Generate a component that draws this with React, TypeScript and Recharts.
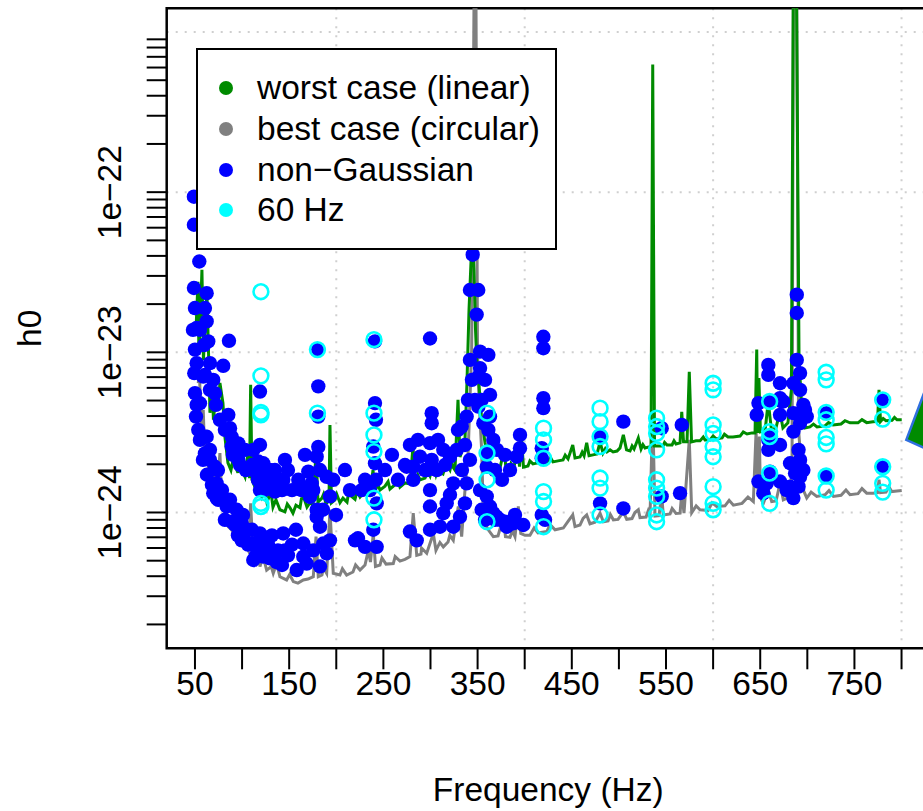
import React from "react";
import { ComposedChart, Line, Scatter, XAxis, YAxis, CartesianGrid, Legend, Label, ReferenceArea } from "recharts";

// h0 values below are written in units of 1e-24 and scaled when the rows are built
const UNIT = 1e-24;

// worst case (linear polarisation) upper limit, [frequency Hz, h0 / 1e-24]
const worstCase: [number, number][] = [
  [51.1, 13.8], [53.2, 27.6], [54.2, 9.64], [56.4, 21.3], [57.4, 32.8], [59.0, 8.97], [60.6, 13.8], [62.7, 23.5],
  [64.9, 7.78], [65.9, 4.19], [68.0, 6.73], [69.6, 3.79], [72.3, 5.42], [74.4, 4.37], [76.5, 6.44], [79.7, 4.83],
  [81.8, 2.96], [85.0, 2.04], [88.2, 1.84], [91.4, 2.29], [93.5, 1.9], [95.6, 1.77], [97.8, 2.57], [99.9, 1.84],
  [103.1, 1.67], [106.3, 2.35], [107.9, 1.64], [109.1, 6.27], [110.5, 1.6], [113.7, 1.44], [116.9, 1.32], [121.1, 1.25],
  [124.3, 1.38], [126.4, 1.16], [129.6, 1.29], [132.8, 1.08], [136.0, 1.2], [140.2, 1.04], [145.5, 1.01], [150.9, 1.07],
  [154.0, 0.99], [157.2, 1.11], [161.5, 1.07], [165.7, 1.23], [168.9, 1.08], [172.1, 1.15], [175.3, 1.11], [178.5, 2.39],
  [180.6, 1.16], [184.8, 1.23], [189.1, 1.13], [192.3, 1.2], [193.3, 3.52], [194.9, 1.15], [198.6, 1.2], [203.9, 1.15],
  [207.1, 1.23], [211.4, 1.16], [215.6, 1.27], [219.9, 1.21], [225.2, 1.25], [229.4, 1.34], [233.7, 1.53], [235.8, 1.32],
  [239.0, 1.84], [241.1, 1.36], [246.4, 1.38], [251.7, 1.46], [257.0, 1.4], [262.3, 1.49], [267.6, 1.44], [272.9, 1.53],
  [278.2, 1.51], [281.4, 2.57], [283.5, 1.55], [288.9, 1.6], [294.2, 1.64], [299.5, 1.69], [302.7, 2.04], [305.8, 1.72],
  [310.1, 1.79], [313.3, 1.74], [317.5, 1.98], [320.7, 1.84], [323.9, 1.92], [326.0, 1.84], [329.2, 5.05], [331.3, 2.22],
  [334.5, 2.53], [336.6, 2.84], [338.7, 6.44], [340.9, 18.4], [343.0, 36.6], [344.6, 51.9], [346.2, 32.8], [347.8, 13.8],
  [349.4, 8.1], [351.5, 6.27], [354.1, 3.95], [357.9, 2.72], [361.0, 2.13], [364.2, 1.95], [366.7, 1.92], [370.6, 1.9],
  [373.8, 1.9], [378.1, 2.46], [380.2, 1.87], [384.4, 1.9], [388.6, 1.92], [392.9, 2.57], [394.5, 1.93], [396.4, 3.05],
  [398.7, 1.92], [403.5, 1.95], [408.8, 2.01], [414.1, 2.04], [419.4, 2.04], [424.7, 2.07], [430.0, 2.07], [435.4, 2.1],
  [440.7, 2.13], [446.0, 2.16], [451.0, 2.64], [453.4, 2.19], [458.7, 2.22], [463.0, 2.26], [465.8, 2.72], [468.3, 2.26],
  [472.5, 2.29], [476.8, 2.32], [480.0, 2.76], [483.1, 2.35], [487.4, 2.39], [490.6, 2.46], [493.8, 2.39], [498.0, 2.42],
  [501.2, 2.53], [504.7, 3.05], [508.1, 2.46], [511.8, 2.42], [516.1, 2.49], [520.6, 2.92], [523.5, 2.49], [527.7, 2.53],
  [532.0, 2.57], [534.1, 2.6], [535.9, 626], [537.8, 2.6], [541.5, 2.6], [546.8, 2.6], [551.1, 2.64], [556.4, 2.64],
  [560.6, 2.68], [564.9, 2.72], [566.7, 4.25], [568.6, 2.76], [572.3, 2.76], [574.7, 7.55], [577.1, 2.76], [581.9, 2.8],
  [586.1, 2.8], [591.4, 2.84], [596.7, 2.84], [603.1, 2.88], [609.5, 2.92], [615.8, 2.96], [621.1, 2.96], [628.6, 3.0],
  [636.0, 3.09], [641.3, 3.14], [644.5, 3.14], [646.3, 10.4], [647.2, 3.14], [648.6, 6.9], [650.2, 3.19], [653.9, 3.23],
  [658.5, 4.91], [661.9, 3.28], [666.7, 3.37], [670.9, 4.25], [674.1, 3.37], [679.4, 3.63], [683.1, 5.83], [685.0, 1500],
  [688.6, 1500], [691.2, 8.97], [694.0, 4.56], [697.5, 3.37], [702.8, 3.42], [710.3, 3.42], [718.8, 3.47], [727.3, 3.52],
  [735.8, 3.57], [745.3, 3.63], [753.8, 3.63], [763.0, 3.64], [769.7, 3.68], [774.5, 3.7], [776.1, 5.83], [777.7, 3.7],
  [783.5, 3.74], [789.9, 3.76], [795.2, 3.79], [800.2, 3.79],
  // small wiggles between the main samples
  [118.5, 1.42], [131.0, 1.3], [148.0, 1.13], [163.0, 1.22], [186.5, 1.3], [200.5, 1.3], [213.0, 1.32], [222.0, 1.36],
  [244.0, 1.5], [255.0, 1.56], [265.0, 1.6], [286.5, 1.72], [297.0, 1.8], [308.0, 1.9], [315.5, 1.92], [322.5, 2.05],
  [385.5, 2.02], [405.5, 2.1], [427.5, 2.2], [443.0, 2.28], [461.0, 2.38], [485.5, 2.5], [514.0, 2.6], [525.5, 2.65],
  [548.5, 2.74], [558.5, 2.8], [589.5, 2.96], [600.0, 3.0], [612.0, 3.08], [632.0, 3.18], [655.5, 3.38], [706.5, 3.56],
  [722.5, 3.64], [740.0, 3.74], [758.0, 3.8], [780.5, 3.86], [792.5, 3.92],
];

// best case (circular polarisation) upper limit
const bestCase: [number, number][] = [
  [53.5, 6.42], [54.6, 7.58], [55.8, 5.05], [57.1, 3.28], [58.8, 4.37], [60.6, 2.04], [62.4, 3.28], [64.3, 1.84],
  [65.9, 1.6], [69.4, 1.93], [73.0, 1.26], [76.5, 2.35], [78.3, 1.26], [81.8, 0.99], [85.4, 0.815], [89.0, 0.78],
  [92.5, 0.705], [97.8, 0.64], [101.3, 0.67], [106.6, 0.58], [109.1, 1.14], [111.9, 0.53], [115.5, 0.48], [119.0, 0.46],
  [122.2, 0.535], [126.1, 0.437], [133.1, 0.417], [136.7, 0.48], [140.2, 0.397], [147.3, 0.379], [154.4, 0.37], [159.3, 0.362],
  [165.0, 0.379], [170.0, 0.384], [175.6, 0.397], [178.5, 0.706], [180.9, 0.397], [184.8, 0.407], [189.8, 0.417], [193.3, 1.04],
  [196.8, 0.417], [203.9, 0.407], [211.0, 0.407], [217.7, 0.425], [225.2, 0.437], [230.5, 0.47], [234.0, 0.58], [236.3, 0.49],
  [239.3, 0.74], [241.6, 0.46], [246.4, 0.47], [252.8, 0.476], [260.5, 0.48], [267.6, 0.497], [272.9, 0.51], [278.2, 0.53],
  [281.7, 0.99], [285.4, 0.54], [289.9, 0.55], [296.0, 0.556], [303.0, 0.74], [305.8, 0.58], [313.6, 0.61], [318.6, 0.654],
  [324.2, 0.67], [329.5, 1.09], [333.1, 0.706], [336.6, 1.38], [340.1, 2.46], [343.7, 10.4], [346.2, 1600], [348.3, 1600],
  [349.9, 10.4], [351.5, 5.05], [354.3, 2.46], [356.0, 1.04], [357.8, 0.85], [361.3, 0.78], [366.7, 0.706], [371.7, 0.714],
  [377.3, 0.94], [379.6, 0.706], [384.4, 0.7], [389.7, 0.706], [393.2, 1.09], [395.8, 0.74], [400.3, 0.72], [405.6, 0.72],
  [414.1, 0.745], [423.4, 0.76], [432.2, 0.78], [441.0, 0.8], [451.0, 0.965], [453.4, 0.816], [458.7, 0.835], [465.8, 0.965],
  [469.3, 0.85], [474.6, 0.87], [480.0, 0.99], [483.5, 0.875], [488.5, 0.885], [494.1, 0.9], [499.1, 0.905], [504.7, 1.01],
  [508.3, 0.907], [513.9, 0.917], [520.6, 1.04], [522.4, 0.93], [528.8, 0.937], [533.0, 0.94], [535.9, 4.25], [538.3, 0.95],
  [542.6, 0.957], [545.4, 1.29], [547.1, 0.965], [554.3, 0.98], [560.6, 0.986], [564.9, 0.99], [566.7, 1.32], [569.1, 0.99],
  [574.7, 2.84], [577.3, 0.997], [586.1, 1.04], [594.6, 1.03], [603.8, 1.09], [612.6, 1.1], [621.5, 1.11], [630.7, 1.14],
  [642.7, 1.17], [645.6, 3.2], [648.0, 1.26], [649.1, 2.98], [650.3, 1.23], [653.3, 1.14], [658.6, 1.38], [662.2, 1.17],
  [666.8, 1.18], [671.0, 1.52], [674.5, 1.2], [678.5, 1.23], [681.7, 1.26], [683.8, 2.13], [685.2, 1600], [688.8, 1600],
  [690.7, 3.28], [692.3, 2.46], [695.8, 1.38], [699.4, 1.23], [710.0, 1.26], [718.8, 1.29], [727.7, 1.26], [735.8, 1.28],
  [745.3, 1.29], [753.8, 1.31], [763.0, 1.32], [769.7, 1.32], [774.5, 1.33], [776.1, 1.6], [777.7, 1.33], [783.5, 1.34],
  [789.5, 1.35], [795.2, 1.36], [800.2, 1.37],
  // small wiggles between the main samples
  [118.0, 0.52], [131.0, 0.46], [150.5, 0.41], [186.5, 0.45], [206.5, 0.445], [220.5, 0.47], [248.5, 0.52], [262.5, 0.53],
  [290.5, 0.6], [310.0, 0.65], [320.5, 0.72], [387.0, 0.77], [410.0, 0.8], [427.0, 0.84], [446.0, 0.88], [462.0, 0.92],
  [491.0, 0.97], [517.0, 1.0], [531.0, 1.02], [556.5, 1.06], [582.0, 1.1], [599.0, 1.15], [617.0, 1.19], [637.0, 1.25],
  [704.0, 1.34], [723.0, 1.37], [741.0, 1.38], [758.0, 1.41], [786.5, 1.45],
];

// non-Gaussian bands
const nonGaussian: [number, number][] = [
  [48.9, 93.7], [48.9, 62.6], [54.6, 36.9], [48.9, 25.2], [62.4, 23.4], [50.0, 18.9], [60.6, 18.9], [51.8, 14.2],
  [62.4, 15.6], [64.1, 11.7], [50.0, 10.4], [51.8, 8.56], [65.9, 8.56], [49.3, 7.41], [60.6, 7.23], [69.4, 6.73],
  [50.0, 5.56], [71.2, 5.56], [51.8, 4.7], [85.4, 4.07], [51.1, 3.97], [53.5, 3.28], [86.1, 11.8], [80.0, 8.24],
  [55.3, 4.81], [58.8, 7.05], [62.4, 2.97], [60.6, 2.34], [65.9, 2.13], [87.2, 3.36], [89.0, 2.58], [103.1, 2.46],
  [96.0, 2.13], [119.0, 5.69], [119.0, 2.64], [117.2, 2.08], [122.5, 2.03], [119.0, 1.6], [126.1, 1.76], [134.9, 1.84],
  [145.5, 2.13], [143.7, 1.6], [134.9, 1.35], [69.4, 1.32], [74.7, 1.2], [83.7, 1.09], [94.3, 1.04], [89.0, 0.876],
  [99.6, 0.86], [104.9, 0.78], [99.6, 0.67], [110.2, 0.64], [119.0, 0.74], [119.0, 0.61], [122.5, 0.53], [129.6, 0.517],
  [136.7, 0.49], [143.7, 0.74], [145.5, 0.58], [65.9, 2.46], [62.4, 2.23], [71.2, 1.93], [73.0, 1.52], [73.0, 1.23],
  [97.8, 0.815], [101.3, 0.705], [111.9, 0.505], [126.1, 0.556], [89.0, 2.97], [96.0, 2.7], [111.9, 2.46], [120.8, 1.93],
  [115.5, 1.76], [129.6, 1.52], [119.0, 1.38], [159.7, 1.6], [163.3, 1.38], [170.3, 1.8], [173.9, 1.52], [168.6, 1.42],
  [55.3, 2.84], [58.5, 2.13], [62.7, 1.72], [68.0, 1.49], [74.4, 1.84], [78.7, 1.38], [81.8, 0.9], [87.2, 1.2],
  [92.5, 0.835], [95.6, 0.72], [101.0, 0.965], [106.3, 0.63], [110.5, 0.78], [114.8, 0.54], [121.1, 0.67], [127.5, 0.63],
  [131.7, 0.72], [138.1, 0.58], [142.4, 0.47], [148.7, 0.54], [153.0, 0.63], [157.2, 0.78], [55.3, 13.8], [59.6, 11.1],
  [65.9, 5.83], [72.3, 4.7], [76.5, 3.79], [81.8, 3.28], [90.3, 2.29], [97.8, 1.98], [104.1, 1.84], [110.5, 1.98],
  [116.9, 1.6], [123.3, 1.38], [129.6, 1.84], [136.0, 1.6], [142.4, 1.38], [148.7, 1.84], [153.0, 1.38], [47.9, 13.8],
  [180.9, 10.4], [180.9, 6.13], [180.9, 3.97], [180.9, 2.57], [179.2, 2.23], [182.7, 1.84], [189.8, 1.67], [196.8, 1.6],
  [175.6, 1.38], [179.2, 1.04], [179.2, 0.94], [182.7, 0.815], [186.2, 0.64], [175.6, 0.58], [168.6, 0.48], [158.0, 0.437],
  [189.8, 0.556], [182.7, 0.46], [165.0, 0.64], [165.0, 0.53], [193.3, 1.26], [166.8, 2.29], [172.1, 1.25], [185.9, 1.04],
  [193.3, 0.67], [199.7, 0.965],
  [241.1, 11.7], [241.1, 4.82], [242.1, 3.79], [239.3, 2.58], [241.1, 2.03], [242.1, 1.6], [235.8, 1.38], [242.9, 1.14],
  [239.3, 0.78], [242.9, 0.61], [230.5, 0.61], [230.5, 1.6], [227.0, 1.38], [223.0, 0.69], [209.2, 1.84], [214.5, 1.38],
  [219.9, 0.67],
  [299.5, 12.2], [301.3, 4.17], [301.3, 3.61], [299.5, 2.71], [301.3, 2.13], [299.5, 1.38], [299.5, 1.09], [281.7, 1.93],
  [278.2, 0.76], [285.4, 0.67], [299.5, 0.78], [310.1, 0.815], [313.6, 0.99], [317.2, 1.14], [324.2, 1.52], [320.7, 2.23],
  [327.8, 2.46], [333.1, 3.44], [338.4, 3.97], [313.6, 2.46], [306.6, 1.84], [288.9, 2.23], [296.0, 1.84], [281.7, 1.6],
  [274.7, 1.93], [251.7, 1.84], [259.1, 2.29], [265.5, 1.6], [272.9, 1.98], [278.2, 2.64], [286.7, 2.84], [294.2, 1.84],
  [308.0, 2.84], [315.4, 1.98], [320.7, 1.29], [329.2, 3.28], [333.4, 1.84], [336.6, 2.64], [341.9, 2.13], [339.8, 5.05],
  [344.0, 6.73], [341.9, 8.97],
  [344.8, 40.7], [341.9, 24.5], [350.7, 24.5], [349.0, 17.2], [352.6, 10.1], [361.4, 9.64], [352.6, 7.97], [350.8, 7.06],
  [347.2, 5.05], [350.8, 4.58], [356.1, 3.61], [361.4, 3.28], [364.9, 2.46], [359.7, 1.93], [338.4, 1.52], [336.6, 1.14],
  [331.3, 0.94], [324.2, 0.815], [352.6, 1.38], [354.3, 1.04], [357.9, 0.9], [366.7, 0.99], [373.8, 0.9], [380.9, 0.815],
  [354.3, 5.05], [363.2, 3.97], [366.7, 2.84], [359.7, 2.35], [370.6, 2.46], [379.1, 2.29], [395.0, 3.05], [395.0, 2.52],
  [391.5, 2.23], [359.7, 1.26], [363.2, 1.09], [370.3, 0.94], [379.1, 0.876], [387.9, 0.856], [398.5, 0.835],
  [368.5, 1.84], [375.9, 1.6], [384.4, 1.84], [363.2, 5.42], [357.9, 6.73], [368.5, 0.9], [389.7, 0.965],
  [419.8, 12.5], [419.8, 10.6], [419.8, 5.17], [419.8, 4.48], [418.1, 2.52], [418.1, 2.18], [418.1, 0.965], [421.6, 0.9],
  [480.0, 2.98], [480.0, 1.14], [504.7, 3.69], [504.7, 1.06], [545.4, 3.36], [545.4, 1.26], [566.7, 3.52], [564.9, 1.32],
  [658.6, 8.34], [658.6, 7.23], [671.0, 6.41], [688.8, 22.9], [688.8, 17.6], [688.8, 8.97], [692.3, 7.42], [685.2, 6.41],
  [692.3, 5.83], [648.1, 4.82], [646.3, 4.07], [671.0, 5.17], [674.5, 4.93], [671.0, 4.07], [685.2, 4.17], [695.8, 4.7],
  [699.4, 3.97], [692.3, 3.61], [685.2, 3.2], [658.6, 2.84], [671.0, 2.64], [658.6, 2.46], [690.7, 2.46], [692.3, 2.13],
  [681.7, 2.03], [695.8, 1.84], [660.4, 1.8], [692.3, 1.67], [648.1, 1.56], [656.9, 1.52], [671.0, 1.56], [678.1, 1.38],
  [685.2, 1.23], [653.3, 1.32], [681.7, 1.45], [697.5, 4.37], [660.4, 4.93], [672.8, 4.93], [660.4, 2.98], [690.7, 2.03],
  [687.0, 1.76], [690.7, 1.45], [720.4, 4.17], [720.4, 1.67], [779.0, 5.05], [779.0, 1.93],
];

// 60 Hz harmonics
const sixtyHz: [number, number][] = [
  [120, 23.9], [120, 7.13], [120, 4.21], [120, 4.07], [120, 1.14], [120, 1.09],
  [180, 10.4], [180, 4.17],
  [240, 12.0], [240, 4.17], [240, 3.05], [240, 2.4], [240, 1.23], [240, 0.9],
  [360, 4.17], [360, 2.35], [360, 1.6], [360, 0.876],
  [420, 3.36], [420, 2.84], [420, 2.18], [420, 1.35], [420, 1.17], [420, 0.815],
  [480, 4.48], [480, 3.69], [480, 2.98], [480, 2.58], [480, 1.64], [480, 1.42], [480, 0.965],
  [540, 3.88], [540, 3.44], [540, 3.12], [540, 2.46], [540, 1.6], [540, 1.42], [540, 1.26], [540, 0.965], [540, 0.876],
  [600, 6.41], [600, 5.83], [600, 3.52], [600, 3.12], [600, 2.58], [600, 2.23], [600, 1.45], [600, 1.14], [600, 1.04],
  [660, 4.93], [660, 3.2], [660, 2.98], [660, 1.76], [660, 1.14],
  [720, 7.51], [720, 6.73], [720, 4.22], [720, 3.79], [720, 2.94], [720, 2.68], [720, 1.69], [720, 1.38],
  [780, 5.05], [780, 3.83], [780, 1.93], [780, 1.52], [780, 1.34],
];

// the big marker cut off at the right edge
const edgeMarker: [number, number][] = [[830, 3.28]];

const xTicks = [50, 100, 150, 200, 250, 300, 350, 400, 450, 500, 550, 600, 650, 700, 750, 800];
const xTickLabels = [50, 150, 250, 350, 450, 550, 650, 750];
const yTicks = [
  2e-25, 3e-25, 4e-25, 5e-25, 6e-25, 7e-25, 8e-25, 9e-25,
  1e-24, 2e-24, 3e-24, 4e-24, 5e-24, 6e-24, 7e-24, 8e-24, 9e-24,
  1e-23, 2e-23, 3e-23, 4e-23, 5e-23, 6e-23, 7e-23, 8e-23, 9e-23,
  1e-22, 2e-22, 3e-22, 4e-22, 5e-22, 6e-22, 7e-22, 8e-22, 9e-22,
];
const yTickLabels = [1e-24, 1e-23, 1e-22];
const yTickText = ["1e\u221224", "1e\u221223", "1e\u221222"];
const xGrid = [200, 400, 600, 800];
const yGrid = [1e-24, 1e-23, 1e-22, 1e-21];

const GREEN = "#008b00";
const GRAY = "#808080";
const BLUE = "#0000ff";
const CYAN = "#00ffff";

const legendItems = [
  { name: "worst case (linear)", color: GREEN },
  { name: "best case (circular)", color: GRAY },
  { name: "non\u2212Gaussian", color: BLUE },
  { name: "60 Hz", color: CYAN },
];

const X_DOMAIN: [number, number] = [20, 830];
const Y_DOMAIN: [number, number] = [1.419e-25, 1.406e-21];

// plot box in page pixels (wrapper is fixed at the page origin)
const W = 950;
const H = 811;
const PLOT_L = 166.7;
const PLOT_T = 8.3;
const PLOT_R = 929.8;
const PLOT_B = 648.3;

const FONT = "'Liberation Sans', Arial, Helvetica, sans-serif";
const FS = 33.5;

const toRows = (pts: [number, number][]) => pts.map(([f, v]) => ({ f, h0: v * UNIT }));
const toLine = (pts: [number, number][]) => toRows(pts).sort((a, b) => a.f - b.f);

function XTick({ x, payload }: any) {
  const v = payload.value;
  return (
    <g>
      <line x1={x} x2={x} y1={PLOT_B} y2={PLOT_B + 21} stroke="#000" strokeWidth={2} />
      {xTickLabels.includes(v) && (
        <text x={x} y={695} textAnchor="middle" fontSize={FS} fontFamily={FONT} fill="#000">
          {v}
        </text>
      )}
    </g>
  );
}

function YTick({ y, payload }: any) {
  const v = payload.value;
  const i = yTickLabels.findIndex((d) => Math.abs(v / d - 1) < 1e-6);
  return (
    <g>
      <line x1={PLOT_L - 20} x2={PLOT_L} y1={y} y2={y} stroke="#000" strokeWidth={2} />
      {i >= 0 && (
        <text transform={`translate(121,${y}) rotate(-90)`} textAnchor="middle" fontSize={FS} fontFamily={FONT} fill="#000">
          {yTickText[i]}
        </text>
      )}
    </g>
  );
}

const BlueDot = (p: any) => <circle cx={p.cx} cy={p.cy} r={7.2} fill={BLUE} />;
const CyanRing = (p: any) => <circle cx={p.cx} cy={p.cy} r={7.4} fill="none" stroke={CYAN} strokeWidth={2.6} />;
const EdgeTriangle = (p: any) => (
  <polygon
    points={`${p.cx - 23.5},${p.cy + 10} ${p.cx + 8},${p.cy - 73} ${p.cx + 8},${p.cy + 24}`}
    fill={GREEN}
    stroke="#2f6fdf"
    strokeWidth={2.5}
  />
);

function LegendBox() {
  const rowsY = [38, 79, 120, 160];
  return (
    <div
      style={{
        position: "relative",
        width: 361,
        height: 202,
        boxSizing: "border-box",
        border: "2px solid #000",
        background: "#fff",
        fontFamily: FONT,
        fontSize: FS,
        color: "#000",
      }}
    >
      {legendItems.map((it, i) => (
        <div key={it.name} style={{ position: "absolute", left: 0, top: rowsY[i] - 20, height: 40, width: "100%" }}>
          <span
            style={{
              position: "absolute",
              left: 21,
              top: 13,
              width: 14,
              height: 14,
              borderRadius: "50%",
              background: it.color,
            }}
          />
          <span style={{ position: "absolute", left: 59, top: 0, lineHeight: "40px", whiteSpace: "nowrap" }}>{it.name}</span>
        </div>
      ))}
    </div>
  );
}

export default function App() {
  return (
    <div style={{ position: "fixed", left: 0, top: 0, width: 923, height: 811, overflow: "hidden", background: "#fff" }}>
      <ComposedChart width={W} height={H} margin={{ top: PLOT_T, right: W - PLOT_R, bottom: 0, left: 0 }}>
        <CartesianGrid
          horizontalValues={yGrid}
          verticalValues={xGrid}
          stroke="#cfcfcf"
          strokeWidth={2}
          strokeDasharray="2 7"
        />
        <XAxis
          type="number"
          dataKey="f"
          domain={X_DOMAIN}
          ticks={xTicks}
          interval={0}
          allowDataOverflow
          axisLine={false}
          tickLine={false}
          tick={<XTick />}
          height={H - PLOT_B}
        >
          <Label
            content={() => (
              <text x={(PLOT_L + PLOT_R) / 2} y={801} textAnchor="middle" fontSize={FS} fontFamily={FONT} fill="#000">
                Frequency (Hz)
              </text>
            )}
          />
        </XAxis>
        <YAxis
          type="number"
          dataKey="h0"
          scale="log"
          domain={Y_DOMAIN}
          ticks={yTicks}
          interval={0}
          allowDataOverflow
          axisLine={false}
          tickLine={false}
          tick={<YTick />}
          width={PLOT_L}
        >
          <Label
            content={() => (
              <text
                transform={`translate(41,${(PLOT_T + PLOT_B) / 2}) rotate(-90)`}
                textAnchor="middle"
                fontSize={FS}
                fontFamily={FONT}
                fill="#000"
              >
                h0
              </text>
            )}
          />
        </YAxis>
        <Scatter data={toRows(nonGaussian)} shape={BlueDot} isAnimationActive={false} legendType="none" />
        <Scatter data={toRows(sixtyHz)} shape={CyanRing} isAnimationActive={false} legendType="none" />
        <Line
          data={toLine(bestCase)}
          dataKey="h0"
          type="linear"
          stroke={GRAY}
          strokeWidth={3}
          dot={false}
          activeDot={false}
          isAnimationActive={false}
          legendType="none"
        />
        <Line
          data={toLine(worstCase)}
          dataKey="h0"
          type="linear"
          stroke={GREEN}
          strokeWidth={3}
          dot={false}
          activeDot={false}
          isAnimationActive={false}
          legendType="none"
        />
        <Scatter data={toRows(edgeMarker)} shape={EdgeTriangle} isAnimationActive={false} legendType="none" />
        <ReferenceArea
          x1={X_DOMAIN[0]}
          x2={X_DOMAIN[1]}
          y1={Y_DOMAIN[0]}
          y2={Y_DOMAIN[1]}
          fill="none"
          stroke="#000"
          strokeWidth={2.5}
          ifOverflow="visible"
        />
        <Legend
          layout="vertical"
          verticalAlign="middle"
          align="center"
          wrapperStyle={{ left: 196, top: 48, width: 361, height: 202 }}
          content={() => <LegendBox />}
        />
      </ComposedChart>
    </div>
  );
}
